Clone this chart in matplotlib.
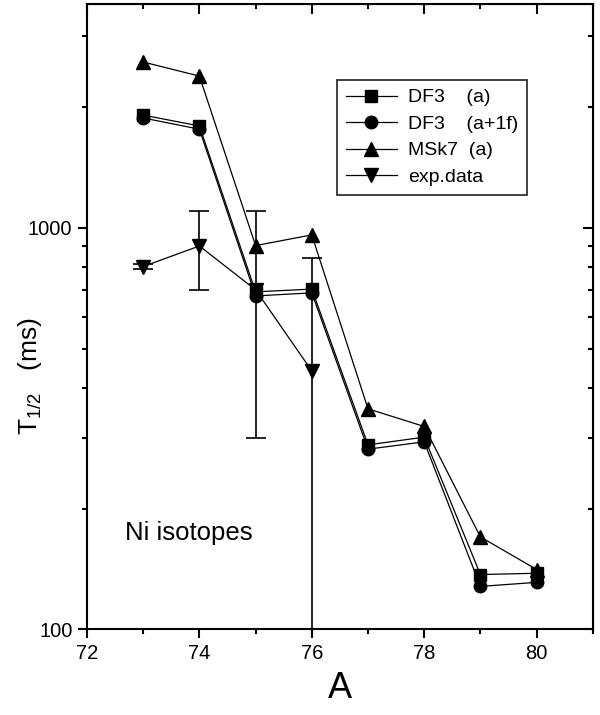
import numpy as np
import matplotlib
matplotlib.use('Agg')
import matplotlib.pyplot as plt
from matplotlib.ticker import FixedLocator, NullFormatter, LogLocator

plt.rcParams['font.family'] = ['Liberation Sans', 'DejaVu Sans']
plt.rcParams['mathtext.fontset'] = 'custom'
plt.rcParams['mathtext.rm'] = 'Liberation Sans'

# data
A = [73, 74, 75, 76, 77, 78, 79, 80]
df3_a = [1905, 1790, 692, 703, 288, 301, 137, 138]
df3_a1f = [1874, 1757, 676, 688, 281, 293, 128, 131]
msk7_a = [2582, 2382, 902, 959, 354, 320, 170, 141]

A_exp = [73, 74, 75, 76]
exp_val = [800, 900, 700, 440]
exp_err = [12, 200, 400, 400]

labels = ['DF3    (a)', 'DF3    (a+1f)', 'MSk7  (a)', 'exp.data']

fig = plt.figure(figsize=(6, 7.15), dpi=100)
ax = fig.add_axes([0.145, 0.1196, 0.843, 0.8748])

lw = 0.9
ax.plot(A, df3_a, '-s', color='black', lw=lw, ms=8.8, label=labels[0])
ax.plot(A, df3_a1f, '-o', color='black', lw=lw, ms=9, label=labels[1])
ax.plot(A, msk7_a, '-^', color='black', lw=lw, ms=10, label=labels[2])
ax.errorbar(A_exp, exp_val, yerr=exp_err, fmt='none', ecolor='black',
            elinewidth=1.2, capsize=7, capthick=1.2)
ax.plot(A_exp, exp_val, '-v', color='black', lw=lw, ms=10, label=labels[3])

ax.set_yscale('log')
ax.set_xlim(72, 81)
ax.set_ylim(100, 3600)

ax.xaxis.set_major_locator(FixedLocator([72, 74, 76, 78, 80]))
ax.xaxis.set_minor_locator(FixedLocator([73, 75, 77, 79, 81]))
ax.yaxis.set_major_locator(FixedLocator([100, 1000]))
ax.yaxis.set_minor_locator(LogLocator(base=10, subs=np.arange(2, 10)))
ax.yaxis.set_minor_formatter(NullFormatter())
ax.set_yticklabels(['100', '1000'])

for s in ax.spines.values():
    s.set_linewidth(1.5)
ax.tick_params(which='major', direction='out', length=6.5, width=1.5,
               labelsize=14.5, pad=4)
ax.tick_params(which='minor', direction='out', length=3.6, width=1.5)

# inward ticks on top and right
top = ax.secondary_xaxis('top')
top.xaxis.set_major_locator(FixedLocator([72, 74, 76, 78, 80]))
top.xaxis.set_minor_locator(FixedLocator([73, 75, 77, 79, 81]))
top.tick_params(which='major', direction='in', length=7.5, width=1.5, labeltop=False)
top.tick_params(which='minor', direction='in', length=3.8, width=1.5)
right = ax.secondary_yaxis('right')
right.yaxis.set_major_locator(FixedLocator([100, 1000]))
right.yaxis.set_minor_locator(LogLocator(base=10, subs=np.arange(2, 10)))
right.yaxis.set_minor_formatter(NullFormatter())
right.tick_params(which='major', direction='in', length=7.5, width=1.5, labelright=False)
right.tick_params(which='minor', direction='in', length=3.8, width=1.5)

ax.set_xlabel('A', fontsize=26, labelpad=6)
fig.text(0.05, 0.474, r'T$_{\mathregular{1/2}}$   (ms)', rotation=90,
         fontsize=19, ha='center', va='center')

ax.text(0.075, 0.155, 'Ni isotopes', transform=ax.transAxes, fontsize=18.5,
        ha='left', va='center')

leg = ax.legend(loc='upper left', bbox_to_anchor=(0.494, 0.8785),
                borderaxespad=0, fontsize=14, frameon=True, fancybox=False,
                edgecolor='black', handlelength=2.63, handletextpad=0.57,
                labelspacing=0.46, borderpad=0.45)
leg.get_frame().set_linewidth(1.3)

fig.savefig('out.png', dpi=100)
